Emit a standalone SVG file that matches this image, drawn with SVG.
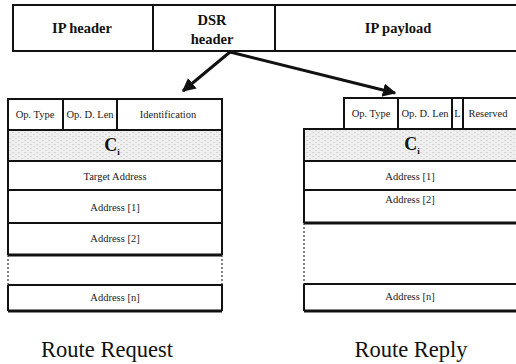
<svg xmlns="http://www.w3.org/2000/svg" width="516" height="364" viewBox="0 0 516 364">
<defs>
<style>
.b{fill:none;stroke:#111;stroke-width:2}
.tk{fill:none;stroke:#111;stroke-width:3.2}
.dt{fill:none;stroke:#333;stroke-width:1.2;stroke-dasharray:2 2}
.h{font-family:"Liberation Serif",serif;font-weight:bold;font-size:14.5px;fill:#111;text-anchor:middle}
.s{font-family:"Liberation Serif",serif;font-size:10.5px;fill:#222;text-anchor:middle}
.c{font-family:"Liberation Serif",serif;font-weight:bold;font-size:18px;fill:#111;text-anchor:middle}
.t{font-family:"Liberation Serif",serif;font-size:22.5px;fill:#111;text-anchor:middle}
.ln{stroke:#111;stroke-width:3;fill:none}
</style>
<pattern id="dots" width="6" height="4" patternUnits="userSpaceOnUse">
<rect width="6" height="4" fill="#efefef"/>
<rect x="0" y="0" width="2" height="1" fill="#d4d4d4"/>
<rect x="3" y="2" width="2" height="1" fill="#dadada"/>
</pattern>
<marker id="ah" viewBox="0 0 10 10" refX="9" refY="5" markerWidth="4.5" markerHeight="4.5" orient="auto" markerUnits="strokeWidth">
<path d="M0,0 L10,5 L0,10 z" fill="#111"/>
</marker>
</defs>

<g id="packet">
<rect x="13" y="5" width="510" height="46" class="b" stroke-width="2.5"/>
<line x1="153" y1="5" x2="153" y2="51" class="b"/>
<line x1="275" y1="5" x2="275" y2="51" class="b"/>
<text x="82" y="33" class="h">IP header</text>
<text x="212" y="25" class="h">DSR</text>
<text x="212" y="44" class="h">header</text>
<text x="398" y="33" class="h">IP payload</text>
</g>

<g id="connectors">
<line x1="230" y1="52" x2="183" y2="91" class="ln" marker-end="url(#ah)"/>
<line x1="230" y1="52" x2="395" y2="93" class="ln" marker-end="url(#ah)"/>
</g>

<g id="route-request">
<rect x="8" y="130" width="214" height="31" fill="url(#dots)"/>
<rect x="8" y="99" width="214" height="31" class="b"/>
<line x1="63" y1="99" x2="63" y2="130" class="b"/>
<line x1="117" y1="99" x2="117" y2="130" class="b"/>
<text x="35" y="118" class="s">Op. Type</text>
<text x="90" y="118" class="s">Op. D. Len</text>
<text x="168" y="118" class="s">Identification</text>
<rect x="8" y="130" width="214" height="31" class="b"/>
<text x="112" y="151" class="c">C<tspan font-size="9" dy="4">i</tspan></text>
<rect x="8" y="161" width="214" height="29" class="b"/>
<text x="115" y="180" class="s">Target Address</text>
<rect x="8" y="190" width="214" height="33" class="b"/>
<text x="115" y="211" class="s">Address [1]</text>
<path d="M8,223 V255 M222,223 V255" class="b"/>
<line x1="8" y1="255" x2="222" y2="255" class="tk"/>
<text x="115" y="242" class="s">Address [2]</text>
<path d="M8,255 V285 M222,255 V285" class="dt"/>
<path d="M8,285 H222 V311 M8,285 V311" class="b"/>
<line x1="8" y1="311" x2="222" y2="311" class="tk"/>
<text x="115" y="301" class="s">Address [n]</text>
<text x="107" y="357" class="t">Route Request</text>
</g>

<g id="route-reply">
<rect x="304" y="129" width="220" height="32" fill="url(#dots)"/>
<rect x="344" y="98" width="180" height="31" class="b"/>
<line x1="398" y1="98" x2="398" y2="129" class="b"/>
<line x1="452" y1="98" x2="452" y2="129" class="b"/>
<line x1="463" y1="98" x2="463" y2="129" class="b"/>
<text x="371" y="117" class="s">Op. Type</text>
<text x="425" y="117" class="s">Op. D. Len</text>
<text x="457.5" y="117" class="s">L</text>
<text x="488" y="117" class="s">Reserved</text>
<rect x="304" y="129" width="220" height="32" class="b"/>
<text x="412" y="150" class="c">C<tspan font-size="9" dy="4">i</tspan></text>
<rect x="304" y="161" width="220" height="29" class="b"/>
<text x="410" y="180" class="s">Address [1]</text>
<path d="M304,190 V223" class="b"/>
<line x1="304" y1="223" x2="524" y2="223" class="tk"/>
<text x="410" y="203" class="s">Address [2]</text>
<path d="M304,223 V284" class="dt"/>
<path d="M304,284 H524 M304,284 V311" class="b"/>
<line x1="304" y1="311" x2="524" y2="311" class="tk"/>
<text x="410" y="300" class="s">Address [n]</text>
<text x="411" y="357" class="t">Route Reply</text>
</g>
</svg>
